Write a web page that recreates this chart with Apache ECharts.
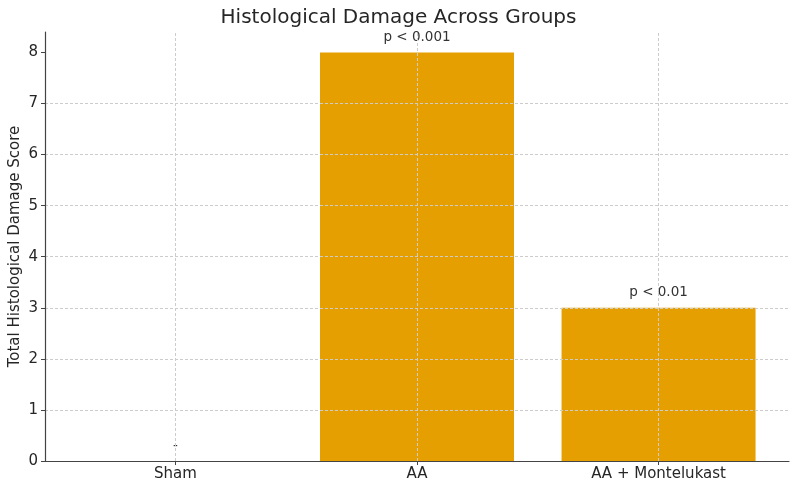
<!DOCTYPE html>
<html>
<head>
<meta charset="utf-8">
<script src="https://cdn.jsdelivr.net/npm/echarts@6/dist/echarts.min.js"></script>
<style>
  html, body { margin: 0; padding: 0; background: #fff; }
  #main_chart { width: 797px; height: 486px; }
</style>
</head>
<body>
<div id="main_chart"></div>
<script>
// data
var groupNames = ['Sham', 'AA', 'AA + Montelukast'];
var damageScores = [0, 8, 3];
var pLabels = ['-', 'p < 0.001', 'p < 0.01'];
var yTicks = [0, 1, 2, 3, 4, 5, 6, 7, 8];

var fontFam = 'DejaVu Sans';

var chart = echarts.init(document.getElementById('main_chart'));

var barData = [];
for (var i = 0; i < groupNames.length; i++) {
  barData.push({
    value: [i, damageScores[i]],
    label: { formatter: pLabels[i] }
  });
}

var option = {
  backgroundColor: '#ffffff',
  animation: false,
  title: {
    text: 'Histological Damage Across Groups',
    left: 'center',
    top: 3,
    textStyle: { fontFamily: fontFam, fontSize: 20, fontWeight: 'normal', color: '#262626' }
  },
  grid: { left: 45, right: 8, top: 32, bottom: 25, outerBoundsMode: 'none', containLabel: false },
  xAxis: {
    type: 'value',
    min: -0.54,
    max: 2.54,
    z: 5,
    axisLine: { show: true, onZero: false, lineStyle: { color: '#444', width: 1.2 } },
    axisTick: { show: true, customValues: [0, 1, 2], length: 4, lineStyle: { color: '#444' } },
    axisLabel: {
      customValues: [0, 1, 2],
      formatter: function (v) { return groupNames[Math.round(v)]; },
      fontFamily: fontFam, fontSize: 15, color: '#262626', margin: 6
    },
    splitLine: { show: false }
  },
  yAxis: {
    type: 'value',
    min: 0,
    max: 8.4,
    interval: 1,
    z: 5,
    name: 'Total Histological Damage Score',
    nameLocation: 'middle',
    nameGap: 22,
    nameMoveOverlap: false,
    nameTextStyle: { fontFamily: fontFam, fontSize: 15, color: '#262626' },
    axisLine: { show: true, onZero: false, lineStyle: { color: '#444', width: 1.2 } },
    axisTick: { show: true, customValues: yTicks, length: 4, lineStyle: { color: '#444' } },
    axisLabel: {
      customValues: yTicks,
      fontFamily: fontFam, fontSize: 15, color: '#262626', margin: 7
    },
    splitLine: { show: true, showMaxLine: false, showMinLine: false, lineStyle: { color: '#cccccc', type: [3, 2], width: 1 } }
  },
  series: [{
    type: 'bar',
    data: barData,
    barWidth: 194,
    itemStyle: { color: '#E69F00' },
    label: {
      show: true,
      position: 'top',
      distance: 8,
      fontFamily: fontFam,
      fontSize: 13.5,
      color: '#333'
    },
    labelLayout: { hideOverlap: false },
    markLine: {
      silent: true,
      symbol: 'none',
      z: 4,
      label: { show: false },
      lineStyle: { color: '#cccccc', type: [3, 2], width: 1 },
      data: [{ xAxis: 0 }, { xAxis: 1 }, { xAxis: 2 }]
    }
  }]
};

chart.setOption(option);
</script>
</body>
</html>
